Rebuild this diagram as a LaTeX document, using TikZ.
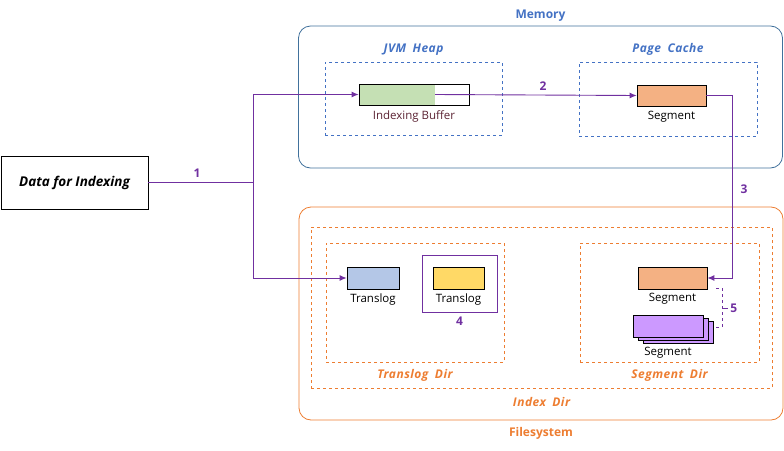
\documentclass[tikz,border=0pt]{standalone}
\usepackage{fontspec}
\setmainfont{Open Sans}
\newfontfamily\dirfont{Open Sans}[LetterSpace=4,WordSpace=1.8]
\usetikzlibrary{arrows.meta, positioning}
\definecolor{flowc}{HTML}{7030A0}
\definecolor{memc}{HTML}{41719C}
\definecolor{meml}{HTML}{4472C4}
\definecolor{fsc}{HTML}{ED7D31}
\definecolor{bufgreen}{HTML}{C5E0B4}
\definecolor{segc}{HTML}{F4B183}
\definecolor{tlogc}{HTML}{B4C7E7}
\definecolor{tlogy}{HTML}{FFD966}
\definecolor{stackc}{HTML}{CC99FF}
\definecolor{bufl}{HTML}{5B2333}
\tikzset{area/.style={draw,rounded corners=12pt,line width=0.8pt},
         dirbox/.style={draw,dashed,line width=0.6pt},
         filebox/.style={draw,line width=0.8pt,inner sep=0pt},
         flow/.style={draw=flowc,line width=0.9pt,-{Latex[length=7pt,width=6pt]}},
         lbl/.style={font=\fontsize{11.5}{13}\selectfont,inner sep=1pt},
         arealbl/.style={font=\fontsize{12}{14}\selectfont\bfseries,inner sep=1pt},
         dirlbl/.style={font=\fontsize{12}{14}\dirfont\bfseries\itshape,inner sep=1pt},
         numlbl/.style={font=\fontsize{12}{14}\selectfont\bfseries,text=flowc,inner sep=1pt}}
\begin{document}
\begin{tikzpicture}[x=1pt,y=-1pt]
        \useasboundingbox (0,0) rectangle (784,450);

        \node[draw,line width=0.8pt,minimum width=147pt,minimum height=53pt,
              font=\fontsize{13.5}{15}\selectfont\bfseries\itshape](data)at(74.5,182.5){Data for Indexing};

        \node[area, draw=memc, minimum width=484pt, minimum height=142pt](memory)at(540.5,97){};
        \node[arealbl, text=meml, above=3pt of memory](memlbl){Memory};
        \node[dirbox, draw=meml, minimum width=177pt, minimum height=73pt](heap)at(413.5,98.5){};
        \node[dirlbl, text=meml, above=5pt of heap](heaplbl){JVM Heap};
        \node[dirbox, draw=meml, minimum width=178pt, minimum height=74pt](cache)at(668,99){};
        \node[dirlbl, text=meml, above=5pt of cache](cachelbl){Page Cache};

        \node[filebox, minimum width=110pt, minimum height=21pt,
              path picture={\fill[bufgreen] (path picture bounding box.south west) rectangle ++(76pt,21pt);}](buf)at(414,94.5){};
        \node[filebox, draw, fill=none, minimum width=110pt, minimum height=21pt]at(buf){};
        \coordinate (bufend) at (435,94.5);
        \node[lbl, text=bufl, below=4pt of buf](buflbl){Indexing Buffer};
        \node[filebox, fill=segc, minimum width=69pt, minimum height=21pt](seg1)at(671.5,95.5){};
        \node[lbl, below=4pt of seg1](seg1lbl){Segment};

        \node[area, draw=fsc, minimum width=484pt, minimum height=213pt](fs)at(541,313.5){};
        \node[arealbl, text=fsc, below=6pt of fs](fslbl){Filesystem};
        \node[dirbox, draw=fsc, minimum width=461pt, minimum height=161pt](idx)at(541.5,307.5){};
        \node[dirlbl, text=fsc, below=8pt of idx](idxlbl){Index Dir};
        \node[dirbox, draw=fsc, minimum width=178pt, minimum height=119pt](tlogdir)at(415,302.5){};
        \node[dirlbl, text=fsc, below=6pt of tlogdir](tlogdirlbl){Translog Dir};
        \node[dirbox, draw=fsc, minimum width=179pt, minimum height=119pt](segdir)at(669.5,302.5){};
        \node[dirlbl, text=fsc, below=6pt of segdir](segdirlbl){Segment Dir};

        \node[filebox, fill=tlogc, minimum width=52pt, minimum height=22pt](tlog1)at(373,278){};
        \node[lbl, below=3pt of tlog1](tlog1lbl){Translog};
        \node[draw=flowc, line width=0.9pt, minimum width=75pt, minimum height=57pt](roll)at(459.5,283.5){};
        \node[filebox, fill=tlogy, minimum width=51pt, minimum height=22pt](tlog2)at(458.5,278){};
        \node[lbl, below=3pt of tlog2](tlog2lbl){Translog};
        \node[numlbl, below=3pt of roll](n4){4};

        \node[filebox, fill=segc, minimum width=69pt, minimum height=22pt](seg2)at(672.5,278){};
        \node[lbl, below=3pt of seg2](seg2lbl){Segment};
        \node[filebox, fill=stackc, minimum width=70pt, minimum height=22pt](stack3)at(678,332){};
        \node[filebox, fill=stackc, minimum width=70pt, minimum height=22pt](stack2)at(673,329){};
        \node[filebox, fill=stackc, minimum width=70pt, minimum height=22pt](stack1)at(668,326){};
        \node[lbl, below=3pt of stack3.south -| stack1](stacklbl){Segment};

        \coordinate (j) at (253,182.5);
        \draw[flowc, line width=0.9pt](data.east)--(j);
        \draw[flow](j)|-(buf.west);
        \draw[flow](j)|-(tlog1.west);
        \node[numlbl] at (197,173) {1};
        \draw[flow](bufend)--(seg1.west);
        \node[numlbl] at (543,86) {2};
        \draw[flow](seg1.east)--++(26,0)|-(seg2.east);
        \node[numlbl] at (744,189) {3};

        \coordinate (b1) at (716,288);
        \coordinate (b2) at (716,327);
        \draw[flowc, dashed, line width=0.8pt](b1)--++(6,0)|-(b2);
        \draw[flowc, line width=0.8pt](722,308)--++(6,0) node[numlbl, right=1pt](n5){5};
    \end{tikzpicture}
\end{document}
